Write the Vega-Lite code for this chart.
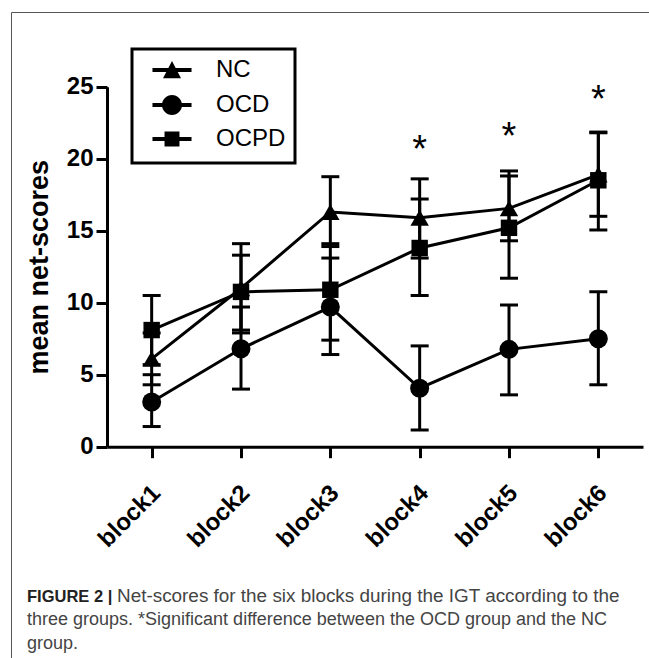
{
  "$schema": "https://vega.github.io/schema/vega-lite/v6.json",
  "width": 648,
  "height": 656,
  "autosize": {"type": "none"},
  "padding": {"left": 11, "top": 12, "right": -10, "bottom": -10},
  "background": "white",
  "config": {
    "font": "Liberation Sans",
    "view": {"stroke": "#555555", "strokeWidth": 1},
    "legend": {"strokeWidth": 3}
  },
  "title": {
    "text": "FIGURE 2 |",
    "subtitle": [
      "three groups. *Significant difference between the OCD group and the NC",
      "group."
    ],
    "orient": "bottom",
    "anchor": "start",
    "frame": "group",
    "align": "left",
    "offset": -79.5,
    "dx": 16,
    "font": "Liberation Sans",
    "fontSize": 16.5,
    "fontWeight": "bold",
    "color": "#222222",
    "subtitleFont": "Liberation Sans",
    "subtitleFontSize": 18,
    "subtitleColor": "#444444",
    "subtitleLineHeight": 23.5,
    "subtitlePadding": 6
  },
  "datasets": {
    "scores": [
      {"block": "block1", "group": "NC", "mean": 6.1, "lower": 4.3, "upper": 7.9},
      {"block": "block2", "group": "NC", "mean": 11.0, "lower": 7.9, "upper": 14.1},
      {"block": "block3", "group": "NC", "mean": 16.3, "lower": 13.9, "upper": 18.75},
      {"block": "block4", "group": "NC", "mean": 15.9, "lower": 13.1, "upper": 18.6},
      {"block": "block5", "group": "NC", "mean": 16.55, "lower": 14.3, "upper": 18.8},
      {"block": "block6", "group": "NC", "mean": 18.9, "lower": 16.0, "upper": 21.85},
      {"block": "block1", "group": "OCD", "mean": 3.1, "lower": 1.4, "upper": 5.0},
      {"block": "block2", "group": "OCD", "mean": 6.8, "lower": 4.0, "upper": 9.7},
      {"block": "block3", "group": "OCD", "mean": 9.7, "lower": 6.4, "upper": 13.1},
      {"block": "block4", "group": "OCD", "mean": 4.06, "lower": 1.16, "upper": 7.0},
      {"block": "block5", "group": "OCD", "mean": 6.76, "lower": 3.6, "upper": 9.84},
      {"block": "block6", "group": "OCD", "mean": 7.5, "lower": 4.3, "upper": 10.76},
      {"block": "block1", "group": "OCPD", "mean": 8.1, "lower": 5.7, "upper": 10.5},
      {"block": "block2", "group": "OCPD", "mean": 10.75, "lower": 8.1, "upper": 13.3},
      {"block": "block3", "group": "OCPD", "mean": 10.9, "lower": 7.4, "upper": 14.1},
      {"block": "block4", "group": "OCPD", "mean": 13.8, "lower": 10.5, "upper": 17.2},
      {"block": "block5", "group": "OCPD", "mean": 15.2, "lower": 11.7, "upper": 19.15},
      {"block": "block6", "group": "OCPD", "mean": 18.5, "lower": 15.05, "upper": 21.8}
    ],
    "stars": [
      {"block": "block4", "star": 21.1, "label": "*"},
      {"block": "block5", "star": 22.0, "label": "*"},
      {"block": "block6", "star": 24.55, "label": "*"}
    ]
  },
  "data": {"name": "scores"},
  "encoding": {
    "x": {
      "field": "block",
      "type": "ordinal",
      "scale": {"type": "point", "domain": ["block1", "block2", "block3", "block4", "block5", "block6"], "range": [96, 632], "padding": 0.5},
      "axis": {
        "orient": "bottom",
        "offset": -221.3,
        "title": "Net-scores for the six blocks during the IGT according to the",
        "titleX": 105.5,
        "titleY": 154.8,
        "titleAlign": "left",
        "titleAnchor": "start",
        "titleBaseline": "alphabetic",
        "titleAngle": 0,
        "titleFont": "Liberation Sans",
        "titleFontSize": 18.9,
        "titleFontWeight": "normal",
        "titleColor": "#444444",
        "domainColor": "black",
        "domainWidth": 3,
        "tickColor": "black",
        "tickWidth": 3,
        "tickSize": 11,
        "labelAngle": -45,
        "labelAlign": "right",
        "labelBaseline": "top",
        "labelPadding": 23,
        "labelOffset": -4,
        "labelFont": "Liberation Sans",
        "labelFontSize": 24,
        "labelFontWeight": "bold",
        "labelColor": "black",
        "grid": false
      }
    }
  },
  "layer": [
    {
      "mark": {"type": "rule", "color": "black", "strokeWidth": 3},
      "encoding": {
        "y": {"field": "lower", "type": "quantitative"},
        "y2": {"field": "upper"}
      }
    },
    {
      "mark": {"type": "tick", "color": "black", "size": 18, "thickness": 3, "opacity": 1},
      "encoding": {"y": {"field": "lower", "type": "quantitative"}}
    },
    {
      "mark": {"type": "tick", "color": "black", "size": 18, "thickness": 3, "opacity": 1},
      "encoding": {"y": {"field": "upper", "type": "quantitative"}}
    },
    {
      "mark": {"type": "line", "color": "black", "strokeWidth": 3},
      "encoding": {
        "y": {
          "field": "mean",
          "type": "quantitative",
          "scale": {"domain": [0, 25], "range": [434.7, 74.7], "nice": false, "zero": true},
          "axis": {
            "orient": "left",
            "offset": -96,
            "values": [0, 5, 10, 15, 20, 25],
            "grid": false,
            "domainColor": "black",
            "domainWidth": 3,
            "tickColor": "black",
            "tickWidth": 3,
            "tickSize": 11,
            "labelFont": "Liberation Sans",
            "labelFontSize": 24,
            "labelFontWeight": "bold",
            "labelColor": "black",
            "labelPadding": 3,
            "title": "mean net-scores",
            "titleFont": "Liberation Sans",
            "titleFontSize": 27,
            "titleFontWeight": "bold",
            "titleColor": "black",
            "titlePadding": 13
          }
        },
        "detail": {"field": "group"}
      }
    },
    {
      "transform": [{"filter": "datum.group == 'NC'"}],
      "mark": {"type": "point", "shape": "triangle-up", "size": 340, "filled": true, "color": "black", "opacity": 1, "strokeWidth": 0},
      "encoding": {"y": {"field": "mean", "type": "quantitative"}}
    },
    {
      "transform": [{"filter": "datum.group == 'OCD'"}],
      "mark": {"type": "point", "shape": "circle", "size": 361, "filled": true, "color": "black", "opacity": 1, "strokeWidth": 0},
      "encoding": {"y": {"field": "mean", "type": "quantitative"}}
    },
    {
      "transform": [{"filter": "datum.group == 'OCPD'"}],
      "mark": {"type": "point", "shape": "square", "size": 270, "filled": true, "color": "black", "opacity": 1, "strokeWidth": 0},
      "encoding": {"y": {"field": "mean", "type": "quantitative"}}
    },
    {
      "data": {"name": "stars"},
      "mark": {"type": "text", "color": "black", "font": "Liberation Sans", "fontSize": 38, "baseline": "alphabetic", "dy": 19},
      "encoding": {
        "y": {"field": "star", "type": "quantitative"},
        "text": {"field": "label"}
      }
    },
    {
      "transform": [{"filter": "false"}],
      "mark": {"type": "point", "filled": true, "color": "black", "stroke": "transparent", "strokeWidth": 3.5, "opacity": 1},
      "encoding": {
        "shape": {
          "field": "group",
          "type": "nominal",
          "scale": {
            "domain": ["NC", "OCD", "OCPD"],
            "range": [
              "M-2.17,-0.21L2.17,-0.21L2.17,0.21L-2.17,0.21ZM0,-1L1,0.92L-1,0.92Z",
              "M-2.17,-0.21L2.17,-0.21L2.17,0.21L-2.17,0.21ZM-1.11,0A1.11,1.11,0,1,1,1.11,0A1.11,1.11,0,1,1,-1.11,0Z",
              "M-2.17,-0.21L2.17,-0.21L2.17,0.21L-2.17,0.21ZM-0.83,-0.83L0.83,-0.83L0.83,0.83L-0.83,0.83Z"
            ]
          },
          "legend": {
            "orient": "none",
            "legendX": 121,
            "legendY": 37,
            "title": null,
            "strokeColor": "black",
            "padding": 9,
            "cornerRadius": 0,
            "symbolSize": 324,
            "symbolFillColor": "black",
            "symbolStrokeColor": "transparent",
            "symbolStrokeWidth": 3.5,
            "symbolOpacity": 1,
            "symbolOffset": 19,
            "labelOffset": 32,
            "labelFont": "Liberation Sans",
            "labelFontSize": 24,
            "labelColor": "black",
            "rowPadding": 2
          }
        }
      }
    }
  ]
}
